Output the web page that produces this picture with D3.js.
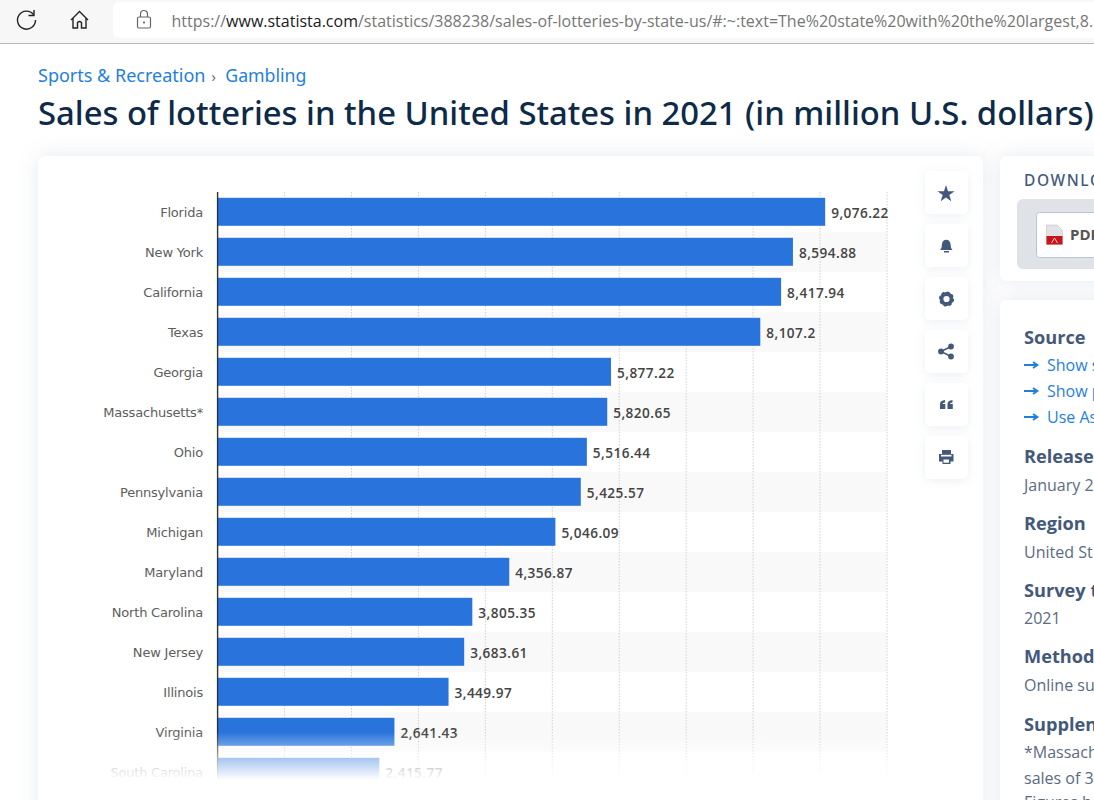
<!DOCTYPE html>
<html><head><meta charset="utf-8">
<script src="https://cdn.jsdelivr.net/npm/d3@7"></script>
<style>
html,body{margin:0;padding:0;background:#fff;overflow:hidden}
svg{display:block}
text{font-family:"Noto Sans","Open Sans",sans-serif}
</style></head><body><div id="c"></div>
<script>
const states=["Florida","New York","California","Texas","Georgia","Massachusetts*","Ohio","Pennsylvania","Michigan","Maryland","North Carolina","New Jersey","Illinois","Virginia","South Carolina"];
const sales=[9076.22,8594.88,8417.94,8107.2,5877.22,5820.65,5516.44,5425.57,5046.09,4356.87,3805.35,3683.61,3449.97,2641.43,2415.77];
const valueLabels=["9,076.22","8,594.88","8,417.94","8,107.2","5,877.22","5,820.65","5,516.44","5,425.57","5,046.09","4,356.87","3,805.35","3,683.61","3,449.97","2,641.43","2,415.77"];
const gridTicks=[0,1000,2000,3000,4000,5000,6000,7000,8000,9000,10000];
const sideHeads=[["Source",344],["Release",463],["Region",530],["Survey t",597],["Method",663],["Supplen",731]];
const sideLines=[["January 2",491],["United St",558],["2021",624],["Online su",691],["*Massach",758],["sales of 3",784],["Figures h",808]];
const sideLinks=[["Show s",371],["Show p",397],["Use As",423]];

const W=1094,H=800;
const svg=d3.select("#c").append("svg").attr("width",W).attr("height",H);
const defs=svg.append("defs");
const blur=defs.append("filter").attr("id","sh").attr("x","-20%").attr("y","-20%").attr("width","140%").attr("height","140%");
blur.append("feDropShadow").attr("dx",0).attr("dy",2).attr("stdDeviation",5).attr("flood-color","#8fa0b8").attr("flood-opacity",.16);
const cardSh=defs.append("filter").attr("id","csh").attr("filterUnits","userSpaceOnUse").attr("x",-60).attr("y",90).attr("width",1300).attr("height",900);
cardSh.append("feDropShadow").attr("dx",0).attr("dy",0).attr("stdDeviation",10).attr("flood-color","#8d9ab2").attr("flood-opacity",.22);
const fade=defs.append("linearGradient").attr("id","fade").attr("x1",0).attr("x2",0).attr("y1",0).attr("y2",1);
fade.append("stop").attr("offset",0).attr("stop-color","#fff").attr("stop-opacity",0);
fade.append("stop").attr("offset",.5).attr("stop-color","#fff").attr("stop-opacity",.55);
fade.append("stop").attr("offset",1).attr("stop-color","#fff").attr("stop-opacity",1);

// page background
svg.append("rect").attr("width",W).attr("height",H).attr("fill","#fff");

// cards
svg.append("rect").attr("x",38).attr("y",156).attr("width",945).attr("height",700).attr("rx",7).attr("fill","#fff").attr("filter","url(#csh)");
svg.append("rect").attr("x",1000).attr("y",156).attr("width",120).attr("height",125).attr("rx",7).attr("fill","#fff").attr("filter","url(#csh)");
svg.append("rect").attr("x",1000).attr("y",300).attr("width",120).attr("height",560).attr("rx",7).attr("fill","#fff").attr("filter","url(#csh)");

// browser bar
svg.append("rect").attr("width",W).attr("height",43).attr("fill","#f7f7f7");
svg.append("rect").attr("y",43).attr("width",W).attr("height",1).attr("fill","#b9b9b9");
svg.append("rect").attr("x",113).attr("y",2).attr("width",990).attr("height",36).attr("rx",6).attr("fill","#fff");
const url=svg.append("text").attr("x",171.5).attr("y",26.5).attr("font-size",16).attr("fill","#767676").style("font-family","'Open Sans'");
url.append("tspan").text("https://");
url.append("tspan").attr("fill","#1b1b1b").text("www.statista.com");
url.append("tspan").text("/statistics/388238/sales-of-lotteries-by-state-us/#:~:text=The%20state%20with%20the%20largest,8.");
// reload, home, lock
svg.append("path").attr("d","M33.5 14.5A9 9 0 1 0 35.5 20").attr("fill","none").attr("stroke","#222").attr("stroke-width",1.4);
svg.append("path").attr("d","M28.5 15.5H34V10").attr("fill","none").attr("stroke","#222").attr("stroke-width",1.4);
svg.append("path").attr("d","M71 20L79.5 11.5L88 20M73 18.5V28H77.5V22.5Q79.5 20.5 81.5 22.5V28H86V18.5").attr("fill","none").attr("stroke","#222").attr("stroke-width",1.4);
svg.append("rect").attr("x",137.5).attr("y",17).attr("width",13).attr("height",11).attr("rx",1.5).attr("fill","none").attr("stroke","#666").attr("stroke-width",1.2);
svg.append("path").attr("d","M140.5 17V14a3.5 3.5 0 0 1 7 0V17").attr("fill","none").attr("stroke","#666").attr("stroke-width",1.2);
svg.append("circle").attr("cx",144).attr("cy",22.5).attr("r",1).attr("fill","#555");

// breadcrumb + title
const crumb=svg.append("text").attr("x",38).attr("y",82).attr("font-size",18).attr("fill","#1f7fe0");
crumb.append("tspan").text("Sports & Recreation");
crumb.append("tspan").attr("dx",6).attr("fill","#667").attr("font-size",14).text("›");
crumb.append("tspan").attr("dx",9.5).attr("font-size",17.7).text("Gambling");
svg.append("text").attr("x",38).attr("y",125).attr("font-size",32.8).attr("font-weight",500).attr("fill","#0d2a48").text("Sales of lotteries in the United States in 2021 (in million U.S. dollars)");

// chart
const x=d3.scaleLinear().domain([0,10000]).range([217.6,887]);
const y=d3.scaleBand().domain(states).range([192,792]).paddingInner(0).paddingOuter(0);
const g=svg.append("g");
g.selectAll("rect.stripe").data(states.filter((d,i)=>i%2===1)).join("rect").attr("class","stripe")
 .attr("x",x(0)).attr("width",x(10000)-x(0)).attr("y",d=>y(d)).attr("height",y.bandwidth()).attr("fill","#f9f9f9");
g.selectAll("line.grid").data(gridTicks.slice(1)).join("line").attr("class","grid")
 .attr("x1",d=>x(d)).attr("x2",d=>x(d)).attr("y1",192).attr("y2",790)
 .attr("stroke","#d0d0d0").attr("stroke-width",1).attr("stroke-dasharray","1.5 1.5");
g.selectAll("rect.bar").data(states).join("rect").attr("class","bar")
 .attr("x",x(0)).attr("y",d=>y(d)+5.8).attr("height",28)
 .attr("width",(d,i)=>x(sales[i])-x(0)).attr("fill","#2873dc");
g.append("line").attr("x1",x(0)).attr("x2",x(0)).attr("y1",192).attr("y2",790).attr("stroke","#2f2f2f").attr("stroke-width",1.4);
g.selectAll("text.cat").data(states).join("text").attr("class","cat")
 .attr("x",203).attr("y",d=>y(d)+y.bandwidth()/2+4.5).attr("text-anchor","end")
 .attr("font-size",13).attr("fill","#5d5d5d").style("font-family","'DejaVu Sans'").style("letter-spacing","-0.2px").text(d=>d);
g.selectAll("text.val").data(states).join("text").attr("class","val")
 .attr("x",(d,i)=>x(sales[i])+6).attr("y",d=>y(d)+y.bandwidth()/2+5.5)
 .attr("font-size",13.6).attr("font-weight",600).attr("fill","#444").style("font-family","'Open Sans'").style("letter-spacing","0.45px")
 .text((d,i)=>valueLabels[i]);
svg.append("rect").attr("x",60).attr("y",732).attr("width",850).attr("height",48).attr("fill","url(#fade)");
svg.append("rect").attr("x",60).attr("y",780).attr("width",850).attr("height",20).attr("fill","#fff");

// tool buttons
const btnY=[171,224,277,330,383,436];
svg.selectAll("rect.btn").data(btnY).join("rect").attr("class","btn").attr("x",925).attr("y",d=>d).attr("width",43).attr("height",43).attr("rx",5).attr("fill","#fff").attr("filter","url(#sh)");
const ic="#44597a";
const star=d3.symbol().type(d3.symbolStar).size(92)();
svg.append("path").attr("d",star).attr("transform","translate(946,194)").attr("fill",ic);
svg.append("path").attr("d","M940 250Q942 248 942 244A4.2 4.2 0 0 1 950.5 244Q950.5 248 952.5 250Z").attr("fill",ic);
svg.append("rect").attr("x",944).attr("y",251).attr("width",5).attr("height",1.5).attr("fill",ic);
svg.append("circle").attr("cx",946.5).attr("cy",299).attr("r",5).attr("fill","none").attr("stroke",ic).attr("stroke-width",3.8);
svg.append("circle").attr("cx",946.5).attr("cy",299).attr("r",6.6).attr("fill","none").attr("stroke",ic).attr("stroke-width",2).attr("stroke-dasharray","2.6 2.6");
[[951,346.5],[941,351.5],[951,356.5]].forEach(p=>svg.append("circle").attr("cx",p[0]).attr("cy",p[1]).attr("r",2.9).attr("fill",ic));
svg.append("path").attr("d","M951 346.5L941 351.5L951 356.5").attr("fill","none").attr("stroke",ic).attr("stroke-width",1.5);
svg.append("path").attr("d","M940 409V404Q940 400.5 945 400V402.5Q942.5 402.7 942.5 404H945.3V409ZM947.5 409V404Q947.5 400.5 952.5 400V402.5Q950 402.7 950 404H952.8V409Z").attr("fill",ic);
svg.append("path").attr("d","M942 454V450H951V454H953.5V461.5H950.5V464H942.5V461.5H939V454Z").attr("fill",ic);
svg.append("rect").attr("x",943.5).attr("y",459.5).attr("width",5.5).attr("height",3.2).attr("fill","#fff");
svg.append("rect").attr("x",941).attr("y",454.8).attr("width",10.5).attr("height",1.7).attr("fill","#fff");

// right panel
svg.append("text").attr("x",1024).attr("y",186).attr("font-size",15.5).attr("font-weight",500).attr("fill","#44597a").style("letter-spacing","1.6px").text("DOWNLOAD");
svg.append("rect").attr("x",1017).attr("y",199).attr("width",100).attr("height",70).attr("rx",6).attr("fill","#dfe3e8");
svg.append("rect").attr("x",1036.5).attr("y",212.5).attr("width",80).attr("height",45).attr("rx",3).attr("fill","#fff").attr("stroke","#b9c5d6");
svg.append("path").attr("d","M1046.5 225H1057L1062.5 230.5V244.5H1046.5Z").attr("fill","#e2e2e2").attr("stroke","#c4c4c4").attr("stroke-width",.6);
svg.append("rect").attr("x",1046.5).attr("y",236).attr("width",16).attr("height",8.5).attr("fill","#c8141a");
svg.append("path").attr("d","M1051.5 243L1054.5 238L1057.5 243").attr("fill","none").attr("stroke","#fbdcdc").attr("stroke-width",.9);
svg.append("text").attr("x",1070).attr("y",240).attr("font-size",15).attr("font-weight",700).attr("fill","#555").style("font-family","'Open Sans'").text("PDF");
svg.selectAll("text.h").data(sideHeads).join("text").attr("class","h").attr("x",1024).attr("y",d=>d[1]).attr("font-size",18.2).attr("font-weight",700).attr("fill","#44597a").style("font-family","'Open Sans'").text(d=>d[0]);
svg.selectAll("text.l").data(sideLines).join("text").attr("class","l").attr("x",1024).attr("y",d=>d[1]).attr("font-size",16).attr("fill","#5a6b82").style("font-family","'Open Sans'").text(d=>d[0]);
svg.selectAll("text.k").data(sideLinks).join("text").attr("class","k").attr("x",1047).attr("y",d=>d[1]).attr("font-size",16).attr("fill","#1f7fe0").style("font-family","'Open Sans'").text(d=>d[0]);
svg.selectAll("path.a").data(sideLinks).join("path").attr("class","a").attr("d",d=>`M1024 ${d[1]-6}H1037M1033 ${d[1]-9}L1037.5 ${d[1]-6}L1033 ${d[1]-3}`).attr("fill","none").attr("stroke","#1f7fe0").attr("stroke-width",1.8);
</script></body></html>
